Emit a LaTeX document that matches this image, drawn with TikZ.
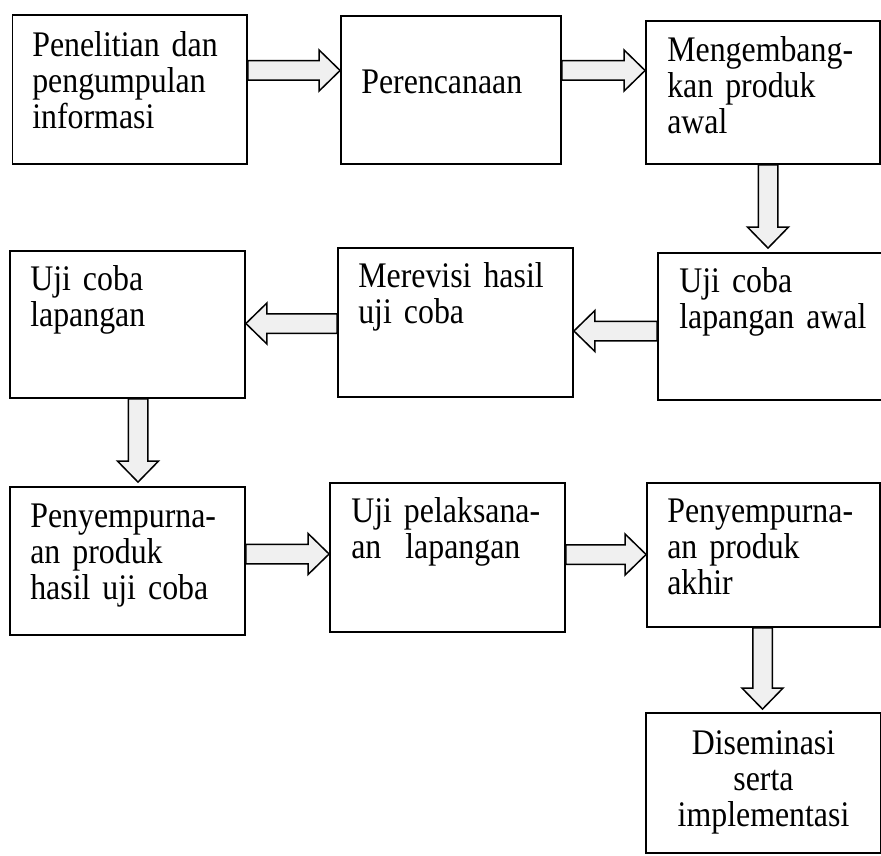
\documentclass[tikz,border=0pt]{standalone}
\usepackage{fontspec}
\setmainfont{Liberation Serif}[FakeStretch=0.885]
\usetikzlibrary{calc}
\definecolor{afill}{HTML}{F0F0F0}
\def\myshw{9.75}
\def\myhdw{20.5}
\def\myhdl{21}
\newcommand{\arrR}[2]{\draw[blk] ($(#1)+(0,\myshw)$) -- ($(#2)+(-\myhdl,\myshw)$) -- ($(#2)+(-\myhdl,\myhdw)$) -- (#2) -- ($(#2)+(-\myhdl,-\myhdw)$) -- ($(#2)+(-\myhdl,-\myshw)$) -- ($(#1)+(0,-\myshw)$) -- cycle;}
\newcommand{\arrL}[2]{\draw[blk] ($(#1)+(0,\myshw)$) -- ($(#2)+(\myhdl,\myshw)$) -- ($(#2)+(\myhdl,\myhdw)$) -- (#2) -- ($(#2)+(\myhdl,-\myhdw)$) -- ($(#2)+(\myhdl,-\myshw)$) -- ($(#1)+(0,-\myshw)$) -- cycle;}
\newcommand{\arrD}[2]{\draw[blk] ($(#1)+(\myshw,0)$) -- ($(#2)+(\myshw,\myhdl)$) -- ($(#2)+(\myhdw,\myhdl)$) -- (#2) -- ($(#2)+(-\myhdw,\myhdl)$) -- ($(#2)+(-\myshw,\myhdl)$) -- ($(#1)+(-\myshw,0)$) -- cycle;}
\newcommand{\mkbox}[5]{\node[box, minimum width={#3-#2}, minimum height={#5-#4}] (#1) at ({(#2+#3)/2},{-(#4+#5)/2}) {};}
\tikzset{
  box/.style={draw=black, line width=1.8pt, inner sep=0pt, rectangle, fill=white},
  lbl/.style={inner sep=0pt, font=\fontsize{36}{36}\selectfont, align=left, text width=215pt, anchor=base west},
  clbl/.style={inner sep=0pt, font=\fontsize{36}{36}\selectfont, align=center, text width=235pt, anchor=base},
  blk/.style={draw=black, line width=1.5pt, fill=afill, line join=miter}
}
\begin{document}
\begin{tikzpicture}[x=1pt,y=1pt]
\useasboundingbox (0,0) rectangle (881,-856);
% boxes: name, left, right, top, bottom (pixels)
\mkbox{b1}{12.5}{247}{15}{164}
\mkbox{b2}{341}{561}{16}{164}
\mkbox{b3}{646}{880}{21}{164}
\mkbox{b4}{10}{245}{251}{398}
\mkbox{b5}{338}{573}{248}{397}
\mkbox{b6}{658}{886}{253}{400}
\mkbox{b7}{10}{245}{487}{635}
\mkbox{b8}{330}{565}{483}{632}
\mkbox{b9}{647}{880}{483}{627}
\mkbox{b10}{646}{881}{713}{853}
% labels
\node[lbl] (t1) at ($(b1.north west)+(20.5,-42)$) {Penelitian dan\\pengumpulan\\informasi};
\node[lbl] (t2) at ($(b2.north west)+(21,-78)$) {Perencanaan};
\node[lbl] (t3) at ($(b3.north west)+(22,-41)$) {Mengembang-\\kan produk\\awal};
\node[lbl] (t4) at ($(b4.north west)+(21,-40)$) {Uji coba\\lapangan};
\node[lbl] (t5) at ($(b5.north west)+(21,-40)$) {Merevisi hasil\\uji coba};
\node[lbl] (t6) at ($(b6.north west)+(22,-40)$) {Uji coba\\lapangan awal};
\node[lbl] (t7) at ($(b7.north west)+(21,-41)$) {Penyempurna-\\an produk\\hasil uji coba};
\node[lbl] (t8) at ($(b8.north west)+(22,-40)$) {Uji pelaksana-\\an~~lapangan};
\node[lbl] (t9) at ($(b9.north west)+(21,-40)$) {Penyempurna-\\an produk\\akhir};
\node[clbl] (t10) at ($(b10.north)+(0,-42)$) {Diseminasi\\serta\\implementasi};
% connector end points
\coordinate (a1s) at (b1.east |- 0,-70.5);
\coordinate (a1e) at (b2.west |- 0,-70.5);
\coordinate (a2s) at (b2.east |- 0,-70.5);
\coordinate (a2e) at (b3.west |- 0,-70.5);
\coordinate (a3s) at (b3.south -| 768,0);
\coordinate (a3e) at ($(b6.north -| 768,0)+(0,4)$);
\coordinate (a4s) at (b6.west |- 0,-331);
\coordinate (a4e) at (b5.east |- 0,-331);
\coordinate (a5s) at (b5.west |- 0,-323.5);
\coordinate (a5e) at (b4.east |- 0,-323.5);
\coordinate (a6s) at (b4.south -| 138,0);
\coordinate (a6e) at ($(b7.north -| 138,0)+(0,4)$);
\coordinate (a7s) at (b7.east |- 0,-554);
\coordinate (a7e) at (b8.west |- 0,-554);
\coordinate (a8s) at (b8.east |- 0,-554.5);
\coordinate (a8e) at (b9.west |- 0,-554.5);
\coordinate (a9s) at (b9.south -| 762.5,0);
\coordinate (a9e) at ($(b10.north -| 762.5,0)+(0,3)$);
% block arrows
\arrR{a1s}{a1e}
\arrR{a2s}{a2e}
\arrD{a3s}{a3e}
\arrL{a4s}{a4e}
\arrL{a5s}{a5e}
\arrD{a6s}{a6e}
\arrR{a7s}{a7e}
\arrR{a8s}{a8e}
\arrD{a9s}{a9e}
\end{tikzpicture}
\end{document}
